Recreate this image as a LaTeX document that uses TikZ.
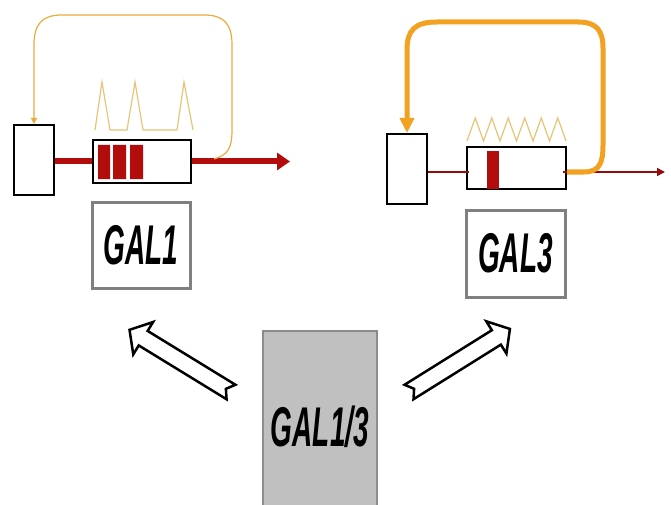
\documentclass[tikz,border=0pt]{standalone}
\usepackage{fontspec}
\newfontfamily\labfont[FakeStretch=0.5]{Liberation Sans}
\usetikzlibrary{arrows.meta,calc}
\definecolor{dred}{RGB}{178,12,12}
\definecolor{orangeA}{RGB}{232,172,60}
\definecolor{orangeB}{RGB}{242,162,32}
\definecolor{tanA}{RGB}{230,196,120}
\definecolor{labgray}{RGB}{128,128,128}
\definecolor{grayfill}{RGB}{192,192,192}
\definecolor{grayline}{RGB}{140,140,140}
\begin{document}
\begin{tikzpicture}[x=1pt,y=-1pt,
  box/.style={draw=black,line width=2pt,fill=white,inner sep=0pt},
  labelbox/.style={draw=labgray,line width=3pt,fill=white,inner sep=0pt,
    font=\labfont\bfseries\itshape\fontsize{56}{60}\selectfont},
  redthick/.style={draw=dred,line width=6pt},
  redthin/.style={draw=dred!85!black,line width=1.5pt},
  fbthin/.style={draw=orangeA,line width=1.2pt},
  fbthick/.style={draw=orangeB,line width=5pt},
  zig/.style={draw=tanA,line width=1.2pt,line join=miter},
  blockarrow/.style={draw=black,line width=2.5pt,fill=white,line join=miter}
]
\useasboundingbox[fill=white] (0,0) rectangle (671,505);

% ---------- left panel (GAL1) ----------
\node[box,minimum width=40pt,minimum height=70pt] (p1) at (34,160) {};
\node[box,minimum width=98pt,minimum height=43pt] (g1) at (142,161.5) {};
\fill[dred] (98,145) rectangle (110,179) (113,145) rectangle (126,179) (130,145) rectangle (143,179);
\coordinate (o1) at (290,161.5);
\coordinate (f1) at (214,159);
\draw[redthick] (g1.west -| p1.east) -- (g1.west);
\draw[redthick,-{Triangle[length=13pt,width=17pt]}] (g1.east) -- (o1);
\draw[zig] (95,130) -- (102,82) -- (110,130) -- (127,130) -- (135,82) -- (143,130) -- (177,130) -- (184,82) -- (193,130);
\draw[fbthin,-{Triangle[length=6pt,width=6pt]}] (f1) .. controls (228,155) and (232,148) .. (232,130)
  -- (232,45) .. controls (232,24) and (224,15) .. (204,15) -- (62,15)
  .. controls (42,15) and (34,24) .. (34,45) -- (p1.north);
\node[labelbox,minimum width=98pt,minimum height=86pt] (L1) at (141,245) {GAL1};

% ---------- right panel (GAL3) ----------
\node[box,minimum width=40pt,minimum height=70pt] (p2) at (407,169) {};
\node[box,minimum width=99pt,minimum height=42pt] (g2) at (516.5,168) {};
\fill[dred] (487,151) rectangle (499,189);
\coordinate (o2) at (665,172);
\draw[redthin] (p2.east |- o2) -- ($(g2.west |- o2)+(3,0)$);
\draw[redthin,-{Triangle[length=8pt,width=8pt]}] ($(g2.east |- o2)+(-4,0)$) -- (o2);
\draw[zig] (467,141) -- (475.25,118) -- (483.5,141) -- (491.75,118) -- (500,141) -- (508.25,118) -- (516.5,141)
  -- (524.75,118) -- (533,141) -- (541.25,118) -- (549.5,141) -- (557.75,118) -- (566,141);
\draw[fbthick,-{Triangle[length=15pt,width=14pt]}] (g2.east |- o2) -- (584,172)
  .. controls (600,172) and (603,162) .. (603,145) -- (603,48)
  .. controls (603,30) and (596,22) .. (578,22) -- (437,22)
  .. controls (415,22) and (407,30) .. (407,50) -- (p2.north);
\node[labelbox,minimum width=99pt,minimum height=87pt] (L2) at (515.5,253.5) {GAL3};

% ---------- bottom ----------
\node[draw=grayline,line width=2pt,fill=grayfill,minimum width=114pt,minimum height=192pt,inner sep=0pt,
  font=\labfont\bfseries\itshape\fontsize{56}{60}\selectfont] (G) at (320,427) {GAL1/3};

\begin{scope}[shift={(231,392)},rotate=148.5]
\draw[blockarrow] (0,8.5) -- (103,8.5) -- (103,19) -- (119,0) -- (103,-19) -- (103,-8.5) -- (0,-8.5) -- (6,0) -- cycle;
\end{scope}
\begin{scope}[shift={(409,392)},rotate=32]
\draw[blockarrow] (0,8.5) -- (103,8.5) -- (103,19) -- (119,0) -- (103,-19) -- (103,-8.5) -- (0,-8.5) -- (6,0) -- cycle;
\end{scope}
\end{tikzpicture}
\end{document}
